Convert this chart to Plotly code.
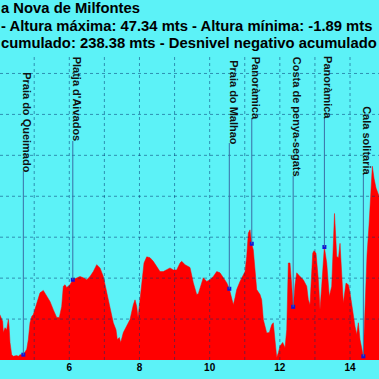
import plotly.graph_objects as go

# ---- data (km, elevation m) ----
dist_km = [4.02, 4.102, 4.119, 4.168, 4.216, 4.262, 4.282, 4.310, 4.358, 4.404, 4.501, 4.547, 4.595, 4.689,
           4.786, 4.832, 4.880, 4.928, 4.974, 5.071, 5.165, 5.259, 5.356, 5.450, 5.544, 5.641, 5.715,
           5.783, 5.829, 5.878, 5.926, 6.020, 6.097, 6.211, 6.305, 6.399, 6.496, 6.590, 6.684, 6.781,
           6.875, 6.969, 7.066, 7.160, 7.254, 7.331, 7.368, 7.425, 7.465, 7.539, 7.636, 7.730, 7.824,
           7.873, 7.921, 7.958, 8.015, 8.072, 8.129, 8.206, 8.300, 8.394, 8.491, 8.585, 8.679, 8.776,
           8.870, 8.964, 9.061, 9.155, 9.203, 9.298, 9.440,
           9.534, 9.631, 9.677, 9.773, 9.819, 9.916, 10.010, 10.104, 10.201, 10.295, 10.389, 10.486,
           10.560, 10.628, 10.674, 10.723, 10.771, 10.865, 10.959, 11.008, 11.056, 11.102, 11.150,
           11.198, 11.244, 11.293, 11.341, 11.435, 11.483, 11.529, 11.626, 11.700, 11.768, 11.814,
           11.863, 11.911, 11.957, 12.005, 12.082, 12.148, 12.196, 12.242, 12.290, 12.319, 12.347,
           12.384, 12.433, 12.481, 12.575, 12.669, 12.766, 12.812, 12.860, 12.937, 12.974, 13.031,
           13.097, 13.145, 13.193, 13.239, 13.268, 13.336, 13.410, 13.478, 13.524, 13.558, 13.621,
           13.672, 13.715, 13.763, 13.809, 13.886, 13.952, 14.000, 14.077, 14.143, 14.191, 14.237,
           14.285, 14.333, 14.379, 14.399, 14.442, 14.485, 14.542, 14.584, 14.636, 14.684, 14.741, 14.830]
elev_m = [11.1, 9.4, 6.7, 7.9, 7.4, 9.9, 8.4, 4.3, 1.3, 0.9, 1.1, 0.9, 1.3, 1.3,
          2.6, 5.0, 9.1, 10.6, 11.1, 14.0, 16.4, 17.0, 15.5, 14.3, 12.3, 10.4, 10.4,
          13.1, 18.0, 18.4, 17.7, 18.4, 19.6, 20.1, 20.4, 20.1, 19.6, 20.4, 21.6, 23.3,
          22.5, 20.4, 16.4, 12.3, 9.1, 7.4, 5.0, 5.5, 4.3, 6.7, 8.2, 9.9, 13.5,
          14.7, 13.1, 10.4, 14.7, 20.0, 23.7, 25.2, 25.0, 24.1, 22.8, 21.6, 21.6, 22.0,
          22.5, 22.0, 22.0, 23.7, 24.1, 23.3, 22.6,
          18.9, 16.0, 16.2, 19.2, 20.1, 19.2, 19.6, 20.4, 21.6, 21.3, 20.1, 18.9,
          17.4, 15.2, 13.5, 15.2, 17.2, 19.2, 20.8, 21.6, 25.3, 31.0, 31.8,
          28.4, 26.9, 22.0, 17.2, 16.0, 14.7, 9.9, 6.6, 6.7, 8.6, 9.1,
          4.3, 0.6, 1.8, 3.4, 4.3, 3.0, 7.4, 23.7, 23.7, 20.4, 18.0,
          13.0, 18.4, 21.3, 20.4, 19.6, 18.0, 14.7, 13.5, 26.1, 26.7, 26.1,
          19.6, 12.3, 18.0, 26.1, 27.6, 23.7, 15.5, 18.0, 29.3, 35.8, 25.3,
          25.0, 28.5, 22.0, 13.9, 18.8, 18.4, 16.4, 11.5, 8.2, 6.2, 9.1,
          5.0, 2.6, 0.9, 6.0, 18.4, 25.7, 33.0, 39.1, 47.34, 44.4, 42.0, 40.0]

wp_names = ["Praia do Queimado", "Platja d'Aivados", "Praia do Malhao", "Panoràmica",
            "Costa de penya-segats", "Panoràmica", "Cala solitaria"]
wp_km = [4.69, 6.10, 10.56, 11.20, 12.38, 13.27, 14.38]
wp_elev = [1.3, 19.6, 17.4, 28.4, 13.0, 27.6, 0.9]

tick_vals = [4, 6, 8, 10, 12, 14]
tick_text = ["4", "6", "8", "10", "12", "14"]
grid_km = [4, 5, 6, 7, 8, 9, 10, 11, 12, 13, 14]
grid_elev = [10, 20, 30, 40, 50, 60, 70]

title_lines = ["a Nova de Milfontes",
               "- Altura máxima: 47.34 mts - Altura mínima: -1.89 mts",
               "cumulado: 238.38 mts - Desnivel negativo acumulado"]

# ---- layout helpers (pixel positions of labels) ----
W, H = 379, 379
M_T, M_B = 56, 19
PH = H - M_T - M_B
label_top_px = [70, 55, 58, 55, 55, 54, 104]
line_top_px = [171, 141, 143, 118, 176, 117, 173]
title_mid_px = [8.4, 25.8, 42.8]
Y_MAX = 74.27

def px_to_paper(p):
    return (H - M_B - p) / PH

def px_to_elev(p):
    return px_to_paper(p) * Y_MAX

BG = "#5CF2F7"
FONT = "Liberation Sans, Arial, sans-serif"

fig = go.Figure()
fig.add_trace(go.Scatter(x=dist_km, y=elev_m, mode="lines", fill="tozeroy",
                         fillcolor="#FF0000", line=dict(color="#FF0000", width=0.5),
                         hoverinfo="skip", showlegend=False))

shapes = []
for k in grid_km:
    shapes.append(dict(type="line", xref="x", yref="paper", x0=k, x1=k, y0=0, y1=1,
                       line=dict(color="rgba(0,50,110,0.5)", width=1, dash="dot"), layer="above"))
for e in grid_elev:
    shapes.append(dict(type="line", xref="paper", yref="y", x0=0, x1=1, y0=e, y1=e,
                       line=dict(color="rgba(0,50,110,0.5)", width=1, dash="dot"), layer="above"))
for k, e, lt in zip(wp_km, wp_elev, line_top_px):
    shapes.append(dict(type="line", xref="x", yref="y", x0=k, x1=k, y0=e, y1=px_to_elev(lt),
                       line=dict(color="#3A6EA5", width=1), layer="above"))

fig.add_trace(go.Scatter(x=wp_km, y=wp_elev, mode="markers",
                         marker=dict(symbol="square", size=4, color="#1414D8"),
                         hoverinfo="skip", showlegend=False))

annotations = []
for name, k, lt in zip(wp_names, wp_km, label_top_px):
    annotations.append(dict(x=k, y=px_to_paper(lt), xref="x", yref="paper", text="<b>" + name + "</b>",
                            textangle=90, showarrow=False, xanchor="left", yanchor="top", xshift=-4,
                            font=dict(family=FONT, size=11, color="#111111")))
for t, mid in zip(title_lines, title_mid_px):
    annotations.append(dict(x=0, y=px_to_paper(mid), xref="paper", yref="paper", text="<b>" + t + "</b>",
                            showarrow=False, xanchor="left", yanchor="middle", xshift=-1,
                            font=dict(family=FONT, size=14.8, color="#000000")))

fig.update_layout(
    width=W, height=H,
    margin=dict(l=0, r=0, t=M_T, b=M_B, pad=0),
    paper_bgcolor=BG, plot_bgcolor=BG,
    shapes=shapes, annotations=annotations,
    xaxis=dict(range=[4.025, 14.826], tickvals=tick_vals, ticktext=["<b>" + t + "</b>" for t in tick_text],
               showgrid=False, zeroline=False, showline=False, ticks="",
               tickfont=dict(family=FONT, size=10, color="#000000"), fixedrange=True),
    yaxis=dict(range=[0, Y_MAX], showgrid=False, zeroline=False, showline=False,
               showticklabels=False, ticks="", fixedrange=True),
    showlegend=False,
)

fig.write_html("out.html", config={"staticPlot": True},
               post_script="document.body.style.margin='0';document.body.style.padding='0';"
                           "document.body.style.overflow='hidden';document.body.style.background='" + BG + "';")
